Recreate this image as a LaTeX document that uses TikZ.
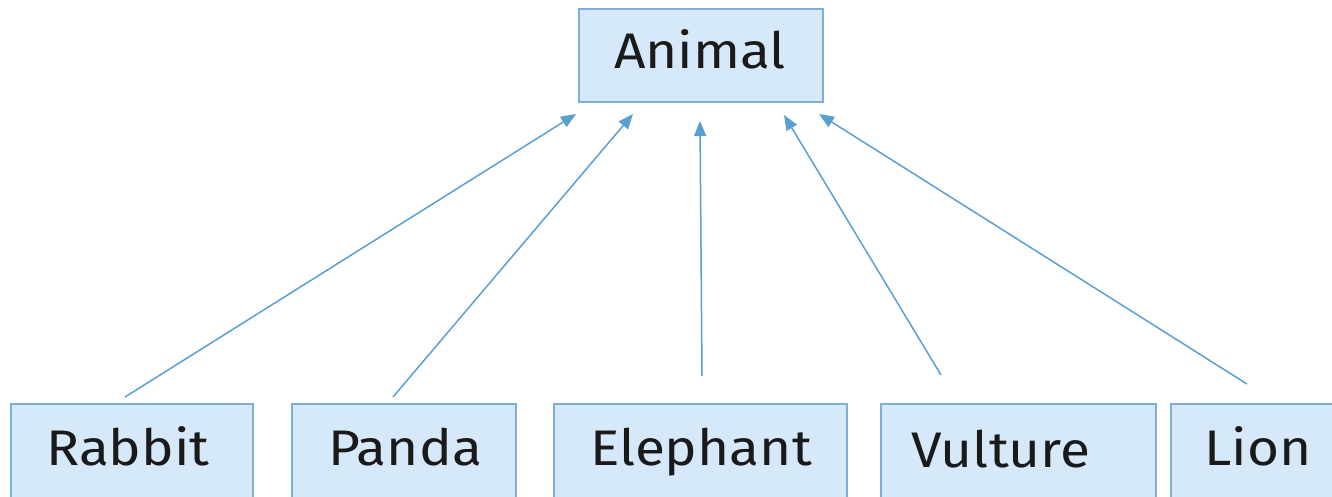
\documentclass[tikz,border=0pt]{standalone}
\usepackage{fontspec}
\setmainfont[FakeStretch=1.1]{Fira Sans}
\usetikzlibrary{arrows.meta}
\definecolor{boxfill}{HTML}{D6E9FB}
\definecolor{boxline}{HTML}{7EAFD8}
\definecolor{arrowcol}{HTML}{5A9FD2}
\definecolor{textcol}{HTML}{1A1A1A}
\tikzset{
  cls/.style={draw=boxline, line width=1.6pt, fill=boxfill, inner sep=0pt, anchor=north west},
  lbl/.style={font=\fontsize{50}{58}\selectfont, text=textcol, anchor=base},
  inherit/.style={draw=arrowcol, line width=1.5pt, -{Triangle[length=15pt,width=12pt]}}
}
\begin{document}
\begin{tikzpicture}[x=1pt,y=-1pt]
\useasboundingbox (0,0) rectangle (1332,496);
\clip (0,0) rectangle (1332,496);
% boxes
\node[cls, minimum width=244pt, minimum height=93pt] (animal) at (578,8) {};
\node[cls, minimum width=242pt, minimum height=120pt] (rabbit) at (10,403) {};
\node[cls, minimum width=224pt, minimum height=120pt] (panda) at (291,403) {};
\node[cls, minimum width=293pt, minimum height=120pt] (elephant) at (553,403) {};
\node[cls, minimum width=275pt, minimum height=120pt] (vulture) at (880,403) {};
\node[cls, minimum width=200pt, minimum height=120pt] (lion) at (1170,403) {};
% labels
\node[lbl] (tanimal) at (700,68) {Animal};
\node[lbl] (trabbit) at (128,465) {Rabbit};
\node[lbl] (tpanda) at (405,465) {Panda};
\node[lbl] (telephant) at (701,465) {Elephant};
\node[lbl] (tvulture) at (1001,467) {Vulture};
\node[lbl] (tlion) at (1258,465) {Lion};
% connector ends
\coordinate (s1) at (125,397);
\coordinate (e1) at (576,114);
\coordinate (s2) at (393,397);
\coordinate (e2) at (633,114);
\coordinate (s3) at (702,376);
\coordinate (e3) at (700,121);
\coordinate (s4) at (941,375);
\coordinate (e4) at (784,115);
\coordinate (s5) at (1247,384);
\coordinate (e5) at (819,114);
\draw[inherit] (s1) -- (e1);
\draw[inherit] (s2) -- (e2);
\draw[inherit] (s3) -- (e3);
\draw[inherit] (s4) -- (e4);
\draw[inherit] (s5) -- (e5);
\end{tikzpicture}
\end{document}
